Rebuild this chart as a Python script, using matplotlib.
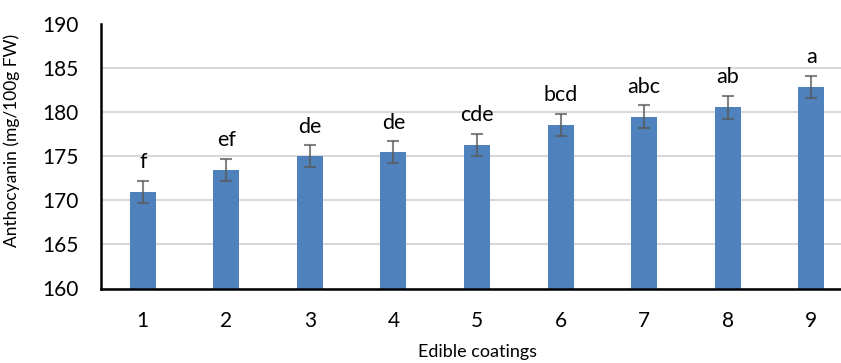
"""
Anthocyanin content under different edible coatings
"""
import numpy as np
from matplotlib import pyplot as plt

plt.rcParams["font.family"] = ["Lato", "DejaVu Sans"]

coatings = ["1", "2", "3", "4", "5", "6", "7", "8", "9"]
anthocyanin = [171.0, 173.5, 175.0, 175.5, 176.35, 178.6, 179.5, 180.6, 182.9]
std_err = [1.25, 1.25, 1.25, 1.25, 1.25, 1.25, 1.3, 1.3, 1.3]
groups = ["f", "ef", "de", "de", "cde", "bcd", "abc", "ab", "a"]

fig = plt.figure(figsize=(8.41, 3.63), dpi=100)
# axes run slightly past the right edge of the canvas
ax = fig.add_axes([101 / 841, 74.5 / 363, 752 / 841, 264 / 363])

x = np.arange(len(coatings))
ax.bar(x, anthocyanin, width=0.31, bottom=0, color="#4f81bd", zorder=2)
ax.errorbar(x, anthocyanin, yerr=std_err, fmt="none", ecolor="#595959",
            elinewidth=1.5, capsize=4.3, capthick=1.5, alpha=0.75, zorder=3)

for xi, val, err, grp in zip(x, anthocyanin, std_err, groups):
    ax.annotate(grp, (xi, val + err), xytext=(0, 6), textcoords="offset points",
                ha="center", va="bottom", fontsize=15.5)

ax.set_xlim(-0.5, len(coatings) - 0.5)
ax.set_ylim(160, 190)
ax.set_yticks(np.arange(160, 191, 5))
ax.set_xticks(x)
ax.set_xticklabels(coatings)
ax.tick_params(axis="both", length=0, labelsize=15)
ax.tick_params(axis="x", pad=16)
ax.tick_params(axis="y", pad=16)

ax.yaxis.grid(True, color="#d9d9d9", linewidth=1.5, zorder=0)
ax.set_axisbelow(True)
for side in ["top", "right"]:
    ax.spines[side].set_visible(False)
for side in ["left", "bottom"]:
    ax.spines[side].set_linewidth(1.8)
    ax.spines[side].set_color("black")

ax.set_ylabel("Anthocyanin (mg/100g FW)", fontsize=12.5)
ax.yaxis.set_label_coords(-81 / 752, (363 - 140 - 74.5) / 264)
ax.set_xlabel("Edible coatings", fontsize=13)
ax.xaxis.set_label_coords(0.5, -(344 - 288.5) / 264)

fig.savefig("out.png", dpi=100)
